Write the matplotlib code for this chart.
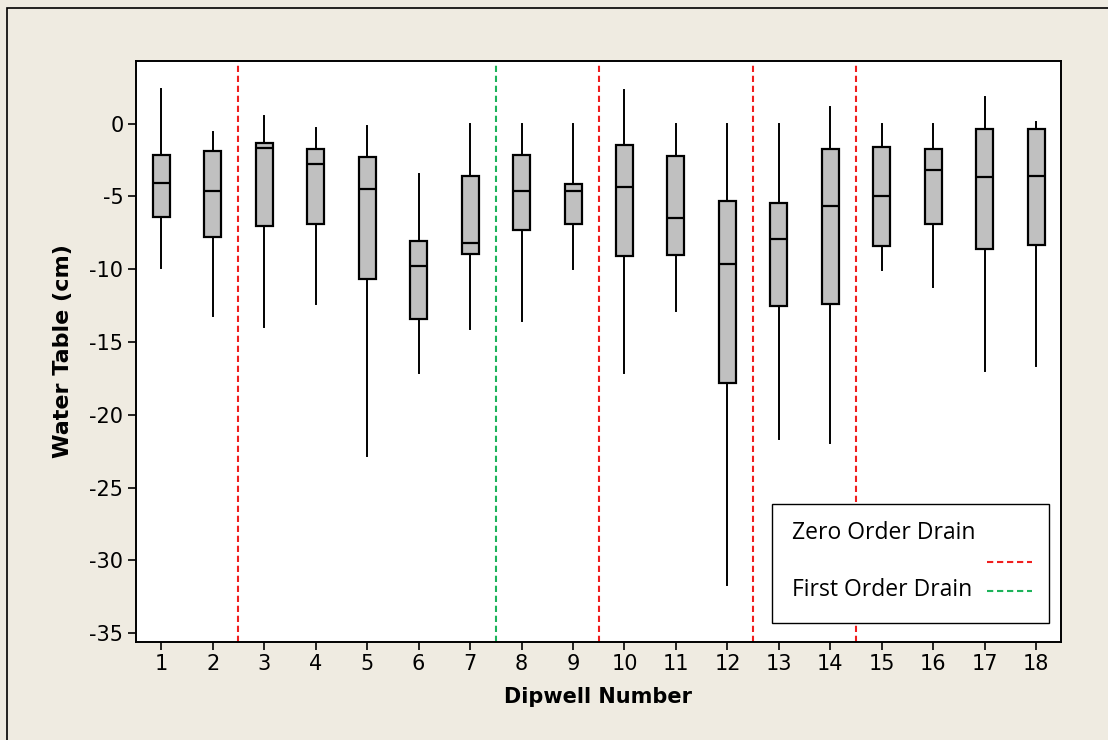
import matplotlib
matplotlib.use('Agg')
import matplotlib.pyplot as plt
from matplotlib.patches import Rectangle

# Box summaries (cm)
dipwells = list(range(1, 19))
whisker_hi = [2.36, -0.55, 0.53, -0.30, -0.16, -3.46, 0.0, 0.0, 0.0,
              2.34, 0.0, 0.0, 0.0, 1.16, 0.0, 0.0, 1.81, 0.10]
q3 = [-2.13, -1.86, -1.30, -1.72, -2.27, -8.06, -3.57, -2.13, -4.12,
      -1.46, -2.22, -5.29, -5.42, -1.71, -1.58, -1.72, -0.39, -0.39]
median = [-4.10, -4.63, -1.70, -2.77, -4.49, -9.76, -8.20, -4.60, -4.60,
          -4.34, -6.47, -9.64, -7.93, -5.66, -5.00, -3.16, -3.69, -3.57]
q1 = [-6.43, -7.79, -7.00, -6.89, -10.70, -13.45, -8.96, -7.28, -6.87,
      -9.12, -9.00, -17.84, -12.53, -12.41, -8.43, -6.87, -8.59, -8.31]
whisker_lo = [-9.90, -13.20, -13.97, -12.39, -22.80, -17.16, -14.10, -13.56, -10.00,
              -17.10, -12.90, -31.66, -21.65, -21.92, -10.03, -11.20, -17.00, -16.63]

zero_order_drains = [2.5, 9.5, 12.5, 14.5]
first_order_drains = [7.5]
y_ticks = [0, -5, -10, -15, -20, -25, -30, -35]

BG = '#EFEBE1'
RED = '#F01E1E'
GREEN = '#1DB35A'
DASH = (0, (3, 1.8))

fig = plt.figure(figsize=(11.08, 7.40), dpi=100, facecolor=BG)
# outer frame (only left and top edges show in the original)
fig.patches.append(Rectangle((7 / 1108, -0.1), 1.2, 1.1 - 8 / 740, transform=fig.transFigure,
                             fill=False, edgecolor='black', linewidth=1.2))
ax = fig.add_axes([136 / 1108, 1 - 642 / 740, (1061 - 136) / 1108, (642 - 61) / 740])
ax.set_facecolor('white')

stats = []
for i in range(len(dipwells)):
    stats.append({'whislo': whisker_lo[i], 'q1': q1[i], 'med': median[i],
                  'q3': q3[i], 'whishi': whisker_hi[i], 'fliers': []})

ax.bxp(stats, positions=dipwells, widths=0.33, patch_artist=True, showcaps=False,
       boxprops=dict(facecolor='#C0C0C0', edgecolor='black', linewidth=1.6),
       medianprops=dict(color='black', linewidth=1.6),
       whiskerprops=dict(color='black', linewidth=1.4))

for x in zero_order_drains:
    ax.axvline(x, color=RED, linewidth=1.5, linestyle=DASH, zorder=0)
for x in first_order_drains:
    ax.axvline(x, color=GREEN, linewidth=1.5, linestyle=DASH, zorder=0)

ax.set_xlim(0.51, 18.48)
ax.set_ylim(-35.6, 4.3)
ax.set_xticks(dipwells)
ax.set_xticklabels([str(d) for d in dipwells])
ax.set_yticks(y_ticks)
ax.set_yticklabels([str(t) for t in y_ticks])
ax.tick_params(axis='both', direction='out', length=6, width=1.2, labelsize=15, pad=3)
for s in ax.spines.values():
    s.set_linewidth(1.4)

ax.set_xlabel('Dipwell Number', fontsize=15, fontweight='bold', labelpad=9)
ax.set_ylabel('Water Table (cm)', fontsize=16, fontweight='bold', labelpad=12)

# Minitab style legend box, drawn by hand
leg = Rectangle((772 / 1108, 1 - 623 / 740), (1049 - 772) / 1108, (623 - 504) / 740,
                transform=fig.transFigure, facecolor='white', edgecolor='black',
                linewidth=1.0, zorder=5)
fig.patches.append(leg)
fig.text(792 / 1108, 1 - 533 / 740, 'Zero Order Drain', fontsize=16.5, family='Open Sans',
         va='center', ha='left', zorder=6)
fig.text(792 / 1108, 1 - 590 / 740, 'First Order Drain', fontsize=16.5, family='Open Sans',
         va='center', ha='left', zorder=6)
fig.lines.append(plt.Line2D([987 / 1108, 1032 / 1108], [1 - 562 / 740] * 2, transform=fig.transFigure,
                            color=RED, linewidth=1.5, linestyle=DASH, zorder=6))
fig.lines.append(plt.Line2D([987 / 1108, 1032 / 1108], [1 - 591 / 740] * 2, transform=fig.transFigure,
                            color=GREEN, linewidth=1.5, linestyle=DASH, zorder=6))

fig.savefig('out.png', dpi=100, facecolor=BG)
